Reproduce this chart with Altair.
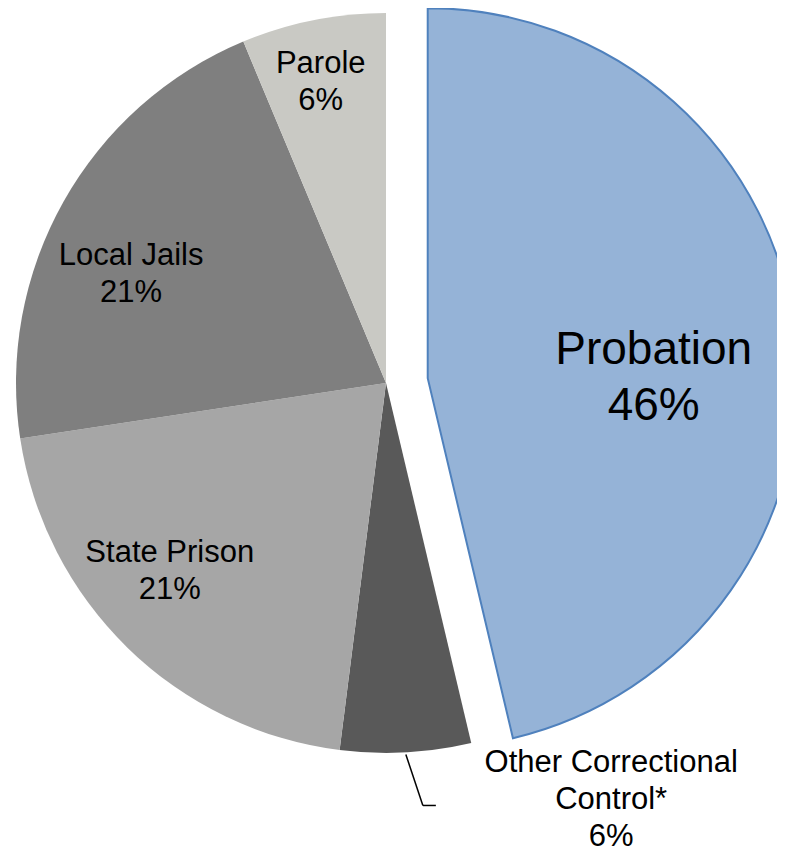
import math
import altair as alt
import pandas as pd

# ---- data ----
categories = ["Probation", "Other Correctional Control*", "State Prison", "Local Jails", "Parole"]
display_labels = ["Probation", "Other Correctional\nControl*", "State Prison", "Local Jails", "Parole"]
shares = [46.3, 5.7, 20.6, 21.1, 6.3]

# ---- styles / layout ----
colors = ["#95B3D7", "#595959", "#A6A6A6", "#7F7F7F", "#C9C9C4"]
CX, CY, R = 378, 375, 370
EXPLODE = 42
label_radius = [226, 474, 287, 277, 308]
label_shift_deg = [6.7, -25.3, 4.6, -6.3, -0.9]
FONT = "Liberation Sans"
SMALL_FS, SMALL_LH = 31, 37
BIG_FS, BIG_LH = 46, 56

total = sum(shares)
df = pd.DataFrame({
    "category": categories,
    "label": display_labels,
    "value": shares,
    "order": list(range(len(categories))),
    "lr": label_radius,
    "lshift": label_shift_deg,
})

is_prob = "datum.category == 'Probation'"

base = (
    alt.Chart(df)
    .transform_window(cum="sum(value)", sort=[alt.SortField("order")], frame=[None, 0])
    .transform_calculate(start="datum.cum - datum.value")
    .transform_calculate(angle=f"(datum.cum - datum.value / 2) / {total} * 2 * PI")
    .transform_calculate(off=f"{is_prob} ? {EXPLODE} : 0")
    .transform_calculate(cxp=f"{CX} + datum.off * sin(datum.angle)")
    .transform_calculate(cyp=f"{CY} - datum.off * cos(datum.angle)")
    .transform_calculate(pct=f"format(datum.value / {total} * 100, '.0f') + '%'")
    .transform_calculate(lines="split(datum.label + '\\n' + datum.pct, '\\n')")
    .transform_calculate(lh=f"{is_prob} ? {BIG_LH} : {SMALL_LH}")
    .transform_calculate(tx="datum.cxp + datum.lr * sin(datum.angle + datum.lshift * PI / 180)")
    .transform_calculate(
        ty="datum.cyp - datum.lr * cos(datum.angle + datum.lshift * PI / 180)"
           " - (length(datum.lines) - 1) * datum.lh / 2"
    )
)

arcs = base.mark_arc(radius=R).encode(
    theta=alt.Theta("start:Q", scale=alt.Scale(domain=[0, total], range=[0, 2 * math.pi])),
    theta2="cum:Q",
    x=alt.X("cxp:Q", scale=None, axis=None),
    y=alt.Y("cyp:Q", scale=None, axis=None),
    color=alt.Color("category:N", scale=alt.Scale(domain=categories, range=colors), legend=None),
    stroke=alt.condition(is_prob, alt.value("#4F81BD"), alt.value("transparent")),
    strokeWidth=alt.condition(is_prob, alt.value(2), alt.value(0)),
)

leader_base = (
    base.transform_filter("datum.category == 'Other Correctional Control*'")
    .transform_calculate(lx0=f"{CX} + {R + 2} * sin(datum.angle)")
    .transform_calculate(ly0=f"{CY} - {R + 2} * cos(datum.angle)")
    .transform_calculate(lx1="datum.lx0 + 17")
    .transform_calculate(ly1="datum.ly0 + 51")
    .transform_calculate(lx2="datum.lx1 + 13")
)
leader1 = leader_base.mark_rule(color="black", strokeWidth=1.5).encode(
    x=alt.X("lx0:Q", scale=None, axis=None),
    y=alt.Y("ly0:Q", scale=None, axis=None),
    x2="lx1:Q",
    y2="ly1:Q",
)
leader2 = leader_base.mark_rule(color="black", strokeWidth=1.5).encode(
    x=alt.X("lx1:Q", scale=None, axis=None),
    y=alt.Y("ly1:Q", scale=None, axis=None),
    x2="lx2:Q",
)

small_text = base.transform_filter(f"!({is_prob})").mark_text(
    font=FONT, fontSize=SMALL_FS, lineHeight=SMALL_LH, align="center", baseline="middle", color="black"
).encode(
    x=alt.X("tx:Q", scale=None, axis=None),
    y=alt.Y("ty:Q", scale=None, axis=None),
    text=alt.Text("lines:N"),
)

big_text = base.transform_filter(is_prob).mark_text(
    font=FONT, fontSize=BIG_FS, lineHeight=BIG_LH, align="center", baseline="middle", color="black"
).encode(
    x=alt.X("tx:Q", scale=None, axis=None),
    y=alt.Y("ty:Q", scale=None, axis=None),
    text=alt.Text("lines:N"),
)

chart = (
    alt.layer(arcs, leader1, leader2, small_text, big_text)
    .properties(width=769, height=849, autosize=alt.AutoSizeParams(type="none"), padding=0)
    .configure_view(stroke=None)
)

chart.save("out.html", embed_options={"renderer": "svg", "actions": False})
